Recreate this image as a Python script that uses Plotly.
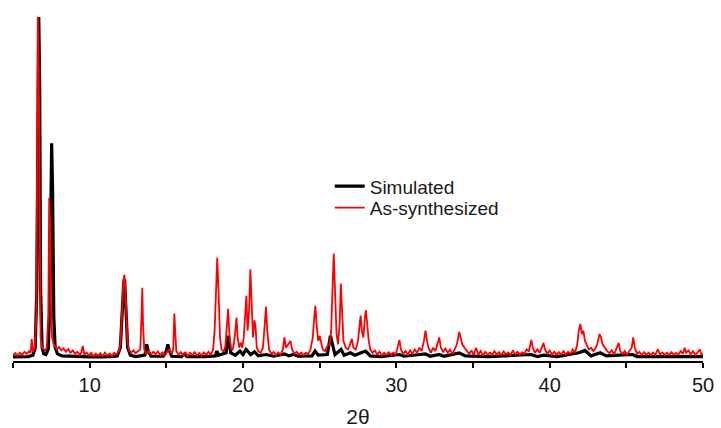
import plotly.graph_objects as go

# Simulated pattern (2theta, relative intensity)
sim_pts = [
    (5.0, 0.3), (5.5, 0.3), (6.0, 0.4), (6.3, 0.8), (6.45, 3), (6.55, 20), (6.62, 80), (6.68, 100),
    (6.74, 80), (6.8, 20), (6.9, 3), (7.0, 1.2), (7.15, 1.0), (7.3, 2.5), (7.4, 15), (7.47, 55),
    (7.52, 63), (7.58, 50), (7.66, 12), (7.75, 3), (7.9, 1.2), (8.2, 0.6), (9.0, 0.4), (10.0, 0.3),
    (11.0, 0.3), (11.8, 0.6), (12.0, 3), (12.12, 14), (12.22, 22), (12.28, 23), (12.36, 15),
    (12.48, 3), (12.65, 0.8), (13.0, 0.4), (13.6, 0.8), (13.72, 4), (13.82, 2), (14.0, 0.5),
    (14.8, 0.5), (15.0, 2), (15.1, 4), (15.2, 2), (15.35, 0.5), (16.0, 0.4), (16.2, 1.2),
    (16.35, 0.4), (17.5, 0.4), (18.2, 0.6), (18.3, 2), (18.4, 0.8), (18.9, 1.5), (19.05, 6.5),
    (19.2, 1.5), (19.5, 0.8), (19.8, 2), (20.0, 1), (20.2, 2.5), (20.5, 1), (20.75, 1.8),
    (21.0, 0.6), (21.5, 1.0), (22.0, 0.5), (22.7, 1.2), (23.0, 0.6), (23.3, 1.0), (23.6, 0.5),
    (24.5, 0.6), (24.7, 2), (24.9, 0.8), (25.5, 1), (25.7, 6.5), (25.85, 4), (26.0, 1),
    (26.4, 2.5), (26.6, 0.8), (27.0, 1.5), (27.3, 0.8), (27.7, 1.5), (28.0, 2), (28.3, 0.6),
    (29.0, 0.4), (30.2, 1.0), (30.5, 0.5), (31.9, 1.2), (32.2, 0.5), (32.8, 1), (33.1, 0.5),
    (34.1, 1.5), (34.5, 0.6), (36.0, 0.4), (38.8, 1.0), (39.2, 0.4), (39.6, 0.8), (40.5, 0.4),
    (41.9, 1.5), (42.3, 2.2), (42.7, 0.6), (43.3, 1.5), (43.7, 0.6), (44.5, 0.8), (45.4, 1.0),
    (45.7, 0.4), (47.0, 0.4), (50.0, 0.4),
]

# As-synthesized pattern (2theta, relative intensity)
exp_pts = [
    (5.0, 0.8), (5.15, 1.4), (5.3, 0.6), (5.45, 1.5), (5.6, 0.9), (5.75, 1.8), (5.9, 1.2), (6.05, 2.0),
    (6.15, 1.5), (6.22, 5.5), (6.3, 1.8), (6.42, 3), (6.52, 12), (6.58, 60), (6.62, 100), (6.68, 85),
    (6.74, 30), (6.8, 6), (6.9, 3), (7.0, 2.5), (7.1, 2.2), (7.2, 3), (7.3, 12), (7.36, 47), (7.42, 40),
    (7.48, 15), (7.55, 6), (7.65, 4), (7.75, 3.5), (7.85, 2.5), (8.0, 3.2), (8.15, 2.2), (8.3, 2.8),
    (8.45, 1.8), (8.6, 2.6), (8.75, 1.5), (8.9, 2.2), (9.05, 1.2), (9.2, 1.8), (9.35, 0.8), (9.45, 1.5),
    (9.55, 3.5), (9.65, 1.0), (9.8, 1.6), (9.95, 0.7), (10.1, 1.5), (10.25, 0.5), (10.4, 1.3),
    (10.55, 0.6), (10.7, 1.4), (10.85, 0.5), (11.0, 1.6), (11.15, 0.7), (11.3, 1.3), (11.45, 0.6),
    (11.6, 1.5), (11.75, 1.0), (11.9, 2.0), (12.0, 4), (12.1, 12), (12.2, 23), (12.27, 24.4),
    (12.35, 18), (12.45, 6), (12.55, 2.5), (12.7, 1.5), (12.85, 2.2), (13.0, 1.4), (13.15, 2.0),
    (13.3, 2.5), (13.38, 12), (13.43, 20.6), (13.48, 10), (13.56, 2.5), (13.7, 1.2), (13.85, 2.0),
    (14.0, 1.0), (14.15, 1.8), (14.3, 1.2), (14.45, 1.9), (14.6, 0.8), (14.75, 1.6), (14.9, 0.6),
    (15.05, 1.8), (15.2, 2.5), (15.35, 1.2), (15.45, 2.5), (15.52, 13), (15.58, 8), (15.65, 2),
    (15.8, 1.0), (15.95, 1.7), (16.1, 0.8), (16.25, 1.6), (16.4, 0.6), (16.55, 1.5), (16.7, 0.8),
    (16.85, 1.7), (17.0, 0.6), (17.15, 1.4), (17.3, 0.7), (17.45, 1.6), (17.6, 0.9), (17.75, 1.8),
    (17.9, 1.0), (18.05, 2.5), (18.15, 8), (18.25, 25), (18.32, 29.4), (18.4, 20), (18.5, 6),
    (18.6, 2.5), (18.75, 1.8), (18.85, 3.5), (18.95, 9), (19.03, 14.4), (19.1, 8), (19.2, 3),
    (19.3, 2.2), (19.4, 4), (19.5, 8), (19.58, 11.8), (19.65, 6), (19.75, 3), (19.85, 4.5),
    (19.95, 3), (20.05, 6), (20.15, 15), (20.22, 18.2), (20.3, 8), (20.4, 14), (20.48, 26),
    (20.55, 18), (20.65, 6), (20.75, 11), (20.82, 9), (20.9, 3), (21.0, 2.0), (21.15, 1.5),
    (21.3, 3), (21.42, 10), (21.5, 15), (21.58, 8), (21.7, 2.5), (21.85, 1.2), (22.0, 1.8),
    (22.15, 0.8), (22.3, 1.6), (22.45, 1.0), (22.6, 2.5), (22.7, 6), (22.8, 3), (22.95, 4),
    (23.1, 5), (23.2, 2.5), (23.35, 1.2), (23.5, 1.8), (23.65, 0.9), (23.8, 1.6), (23.95, 0.8),
    (24.1, 1.5), (24.25, 1.2), (24.4, 2.5), (24.55, 6), (24.65, 12), (24.72, 15.3), (24.8, 10),
    (24.9, 5), (25.0, 6.5), (25.1, 4), (25.2, 2.5), (25.35, 2), (25.5, 3.5), (25.65, 4), (25.75, 8),
    (25.85, 22), (25.92, 30.6), (26.0, 20), (26.1, 7), (26.2, 4), (26.3, 10), (26.38, 21.8),
    (26.45, 14), (26.55, 5), (26.7, 3), (26.85, 2.5), (26.95, 3.5), (27.1, 5.6), (27.2, 3),
    (27.35, 2.5), (27.5, 5), (27.6, 10), (27.67, 12.4), (27.75, 8), (27.85, 6), (27.95, 12),
    (28.02, 14), (28.1, 10), (28.2, 5), (28.3, 2.5), (28.45, 1.5), (28.6, 2.2), (28.75, 1.0),
    (28.9, 1.8), (29.05, 0.7), (29.2, 1.5), (29.35, 0.8), (29.5, 1.7), (29.65, 0.9), (29.8, 1.6),
    (29.95, 1.0), (30.05, 2.5), (30.2, 5.3), (30.3, 2.5), (30.45, 1.2), (30.6, 2.0), (30.75, 1.0),
    (30.9, 2.2), (31.05, 1.2), (31.2, 2.5), (31.35, 1.5), (31.5, 3), (31.65, 2.0), (31.8, 5),
    (31.9, 8), (32.0, 5), (32.1, 3), (32.25, 1.5), (32.4, 3), (32.55, 2.0), (32.7, 4), (32.8, 6),
    (32.9, 3), (33.05, 1.8), (33.2, 2.8), (33.35, 1.5), (33.5, 2.4), (33.65, 1.2), (33.8, 2.5),
    (33.95, 4), (34.1, 7.6), (34.2, 6), (34.3, 4), (34.45, 3), (34.6, 2), (34.75, 1.2), (34.9, 2.2),
    (35.05, 0.8), (35.2, 3), (35.35, 1.0), (35.5, 2.0), (35.65, 0.7), (35.8, 1.8), (35.95, 0.9),
    (36.1, 1.6), (36.25, 0.8), (36.4, 2.0), (36.55, 1.0), (36.7, 1.7), (36.85, 0.8), (37.0, 1.9),
    (37.15, 1.0), (37.3, 1.6), (37.45, 0.8), (37.6, 2.2), (37.75, 1.0), (37.9, 1.8), (38.05, 0.9),
    (38.2, 1.7), (38.35, 1.2), (38.5, 2.5), (38.65, 2.0), (38.8, 5.3), (38.9, 3), (39.05, 1.5),
    (39.2, 2.5), (39.35, 1.5), (39.5, 3), (39.6, 4.4), (39.7, 2.5), (39.85, 1.2), (40.0, 2.2),
    (40.15, 1.0), (40.3, 1.8), (40.45, 0.9), (40.6, 1.7), (40.75, 1.0), (40.9, 2.0), (41.05, 1.0),
    (41.2, 1.8), (41.35, 1.2), (41.5, 2.5), (41.65, 1.5), (41.8, 4), (41.9, 8), (42.0, 10),
    (42.1, 7), (42.2, 8), (42.3, 5), (42.4, 4), (42.55, 2.5), (42.7, 3), (42.85, 2), (43.0, 3),
    (43.1, 4), (43.25, 7), (43.35, 6), (43.45, 4), (43.6, 3), (43.75, 2), (43.9, 1.4), (44.05, 2.2),
    (44.2, 1.0), (44.35, 2.5), (44.5, 4.4), (44.6, 2), (44.75, 1.2), (44.9, 2.0), (45.05, 1.0),
    (45.2, 2.0), (45.35, 3), (45.45, 6), (45.55, 3), (45.7, 1.2), (45.85, 1.8), (46.0, 0.8),
    (46.15, 1.7), (46.3, 0.9), (46.45, 1.5), (46.6, 0.8), (46.75, 1.6), (46.9, 0.9), (47.05, 2.5),
    (47.2, 1.0), (47.35, 1.6), (47.5, 0.8), (47.65, 1.5), (47.8, 0.9), (47.95, 1.7), (48.1, 0.8),
    (48.25, 1.5), (48.4, 1.0), (48.55, 2.0), (48.7, 1.2), (48.8, 3), (48.9, 1.5), (49.05, 2.2),
    (49.2, 1.0), (49.35, 2.0), (49.5, 0.8), (49.65, 1.6), (49.8, 2.5), (49.9, 1.0), (50.0, 1.2),
]

sim_x = [p[0] for p in sim_pts]
sim_y = [p[1] for p in sim_pts]
exp_x = [p[0] for p in exp_pts]
exp_y = [p[1] for p in exp_pts]

tick_vals = [10, 20, 30, 40, 50]
tick_text = ["10", "20", "30", "40", "50"]
minor_vals = [5, 15, 25, 35, 45]

fig = go.Figure()
fig.add_trace(go.Scatter(x=sim_x, y=sim_y, mode="lines", name="Simulated",
                         line=dict(color="black", width=3.2), legend="legend"))
fig.add_trace(go.Scatter(x=exp_x, y=exp_y, mode="lines", name="As-synthesized",
                         line=dict(color="#ff0000", width=1.8), legend="legend2"))

leg_common = dict(xanchor="left", yanchor="middle", bgcolor="rgba(0,0,0,0)",
                  font=dict(size=19))

fig.update_layout(
    width=721, height=428,
    margin=dict(l=13, r=18, t=15, b=67),
    paper_bgcolor="white", plot_bgcolor="white",
    font=dict(family="Liberation Sans, Arial, sans-serif", color="#1a1a1a", size=20),
    showlegend=True,
    legend=dict(x=0.459, y=0.505, **leg_common),
    legend2=dict(x=0.459, y=0.443, **leg_common),
    xaxis=dict(range=[5, 50], showline=True, linecolor="black", linewidth=1.5,
               ticks="outside", ticklen=5, tickwidth=1.5, tickcolor="black",
               tickvals=tick_vals, ticktext=tick_text, showgrid=False, zeroline=False,
               automargin=False,
               minor=dict(tickvals=minor_vals, ticks="outside", ticklen=5,
                          tickwidth=1.5, tickcolor="black", showgrid=False),
               tickfont=dict(size=20),
               title=dict(text="2θ", font=dict(size=21), standoff=22)),
    yaxis=dict(range=[-0.9, 100.6], visible=False, showgrid=False, zeroline=False,
               automargin=False),
)

fig.write_html("out.html", config={"displayModeBar": False},
               post_script="document.body.style.margin='0';document.body.style.overflow='hidden';")
